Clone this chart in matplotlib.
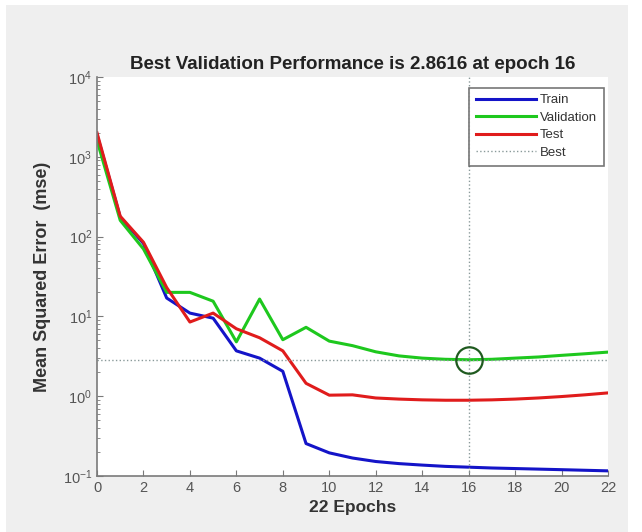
import numpy as np
import matplotlib
matplotlib.use('Agg')
import matplotlib.pyplot as plt
from matplotlib.patches import Rectangle
from matplotlib.ticker import LogLocator, FixedLocator, NullFormatter

plt.rcParams['font.family'] = ['Liberation Sans', 'DejaVu Sans']
plt.rcParams['axes.unicode_minus'] = False

epochs = list(range(23))
train = [1900, 175, 82, 17, 11, 9.5, 3.7, 3.0, 2.05, 0.255, 0.195, 0.168, 0.152,
         0.143, 0.137, 0.132, 0.129, 0.126, 0.124, 0.122, 0.12, 0.118, 0.116]
validation = [1600, 160, 70, 20, 20, 15.5, 4.8, 16.5, 5.1, 7.3, 4.9, 4.3, 3.6,
              3.2, 3.0, 2.9, 2.8616, 2.9, 3.0, 3.1, 3.25, 3.4, 3.57]
test = [2000, 180, 85, 23, 8.5, 11, 7.0, 5.4, 3.7, 1.45, 1.03, 1.04, 0.95,
        0.92, 0.9, 0.89, 0.89, 0.9, 0.92, 0.95, 0.99, 1.04, 1.1]
best_epoch = 16
best_perf = 2.8616

fig = plt.figure(figsize=(6.42, 5.32), dpi=100, facecolor='white')
# grey panel behind the plot
fig.add_artist(Rectangle((6 / 642, 0), 622 / 642, 527 / 532, transform=fig.transFigure,
                         facecolor='#efefef', edgecolor='none', zorder=-10))

ax = fig.add_axes([97 / 642, (532 - 476) / 532, 511 / 642, 399 / 532])
ax.set_facecolor('white')

ax.plot(epochs, train, color='#1414c8', lw=2.2, label='Train')
ax.plot(epochs, validation, color='#1ec81e', lw=2.2, label='Validation')
ax.plot(epochs, test, color='#e01c1c', lw=2.2, label='Test')
ax.axhline(best_perf, color='#8a9a9a', lw=1, ls=':', label='Best')
ax.axvline(best_epoch, color='#8a9a9a', lw=1, ls=':')
ax.plot([best_epoch], [best_perf], 'o', ms=19, mfc='none', mec='#1f5a1f', mew=1.6)

ax.set_yscale('log')
ax.set_xlim(0, 22)
ax.set_ylim(0.1, 1e4)
ax.xaxis.set_major_locator(FixedLocator(range(0, 23, 2)))
ax.yaxis.set_major_locator(LogLocator(base=10, numticks=10))
ax.yaxis.set_minor_locator(LogLocator(base=10, subs=np.arange(2, 10), numticks=10))
ax.yaxis.set_minor_formatter(NullFormatter())

for side in ['top', 'right']:
    ax.spines[side].set_visible(False)
for side in ['left', 'bottom']:
    ax.spines[side].set_color('#7a7a7a')
    ax.spines[side].set_linewidth(1.2)
ax.tick_params(which='both', direction='in', colors='#7a7a7a', labelcolor='#555555', labelsize=10.5)
ax.tick_params(which='major', length=4)
ax.tick_params(which='minor', length=2)

ax.set_title('Best Validation Performance is 2.8616 at epoch 16', fontsize=13.5,
             fontweight='bold', color='#222222', pad=6)
ax.set_xlabel('22 Epochs', fontsize=12.5, fontweight='bold', color='#333333', labelpad=4)
ax.set_ylabel('Mean Squared Error  (mse)', fontsize=13, fontweight='bold', color='#333333', labelpad=8)

leg = ax.legend(loc='upper right', fontsize=9.5, frameon=True, fancybox=False,
                handlelength=4.6, handletextpad=0.3, borderpad=0.5, labelspacing=0.4,
                bbox_to_anchor=(1.005, 0.99))
leg.get_frame().set_edgecolor('#555555')
leg.get_frame().set_linewidth(1.2)
for txt in leg.get_texts():
    txt.set_color('#333333')

fig.savefig('out.png', dpi=100, facecolor=fig.get_facecolor())
